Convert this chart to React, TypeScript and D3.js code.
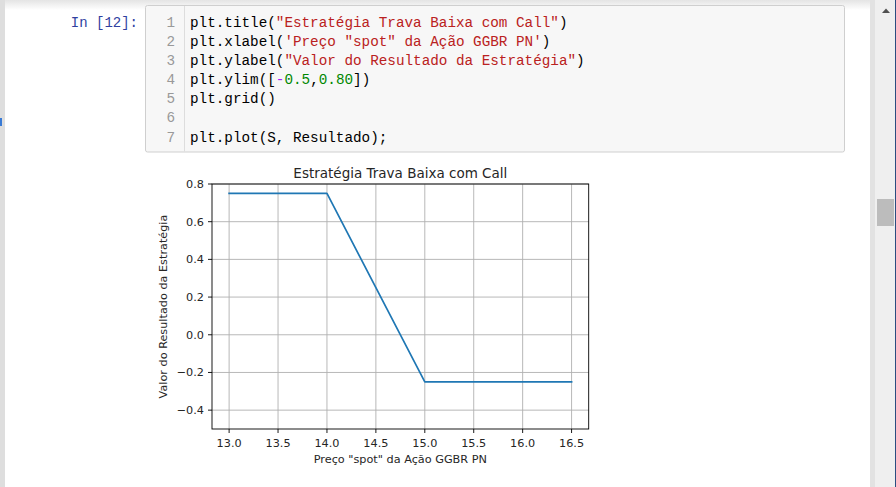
import React from "react";
import * as d3 from "d3";

const S = [13.0, 14.0, 15.0, 16.5];
const Resultado = [0.75, 0.75, -0.25, -0.25];
const xTicks = [13.0, 13.5, 14.0, 14.5, 15.0, 15.5, 16.0, 16.5];
const yTicks = [-0.4, -0.2, 0.0, 0.2, 0.4, 0.6, 0.8];
const yLimits = [-0.5, 0.8];
const chartTitle = "Estratégia Trava Baixa com Call";
const xLabel = 'Preço "spot" da Ação GGBR PN';
const yLabel = "Valor do Resultado da Estratégia";
const promptLabel = "In [12]:";

const K = "#000000";
const R = "#ba2121";
const G = "#008800";
const P = "#aa22ff";
const codeLines: [string, string][][] = [
  [["plt.title(", K], ['"Estratégia Trava Baixa com Call"', R], [")", K]],
  [["plt.xlabel(", K], [`'Preço "spot" da Ação GGBR PN'`, R], [")", K]],
  [["plt.ylabel(", K], ['"Valor do Resultado da Estratégia"', R], [")", K]],
  [["plt.ylim([", K], ["-", P], ["0.5", G], [",", K], ["0.80", G], ["])", K]],
  [["plt.grid()", K]],
  [],
  [["plt.plot(S, Resultado);", K]],
];

export default function App() {
  const W = 896, H = 487;
  const left = 212, right = 588.7, top = 184, bottom = 429;
  const xPad = (S[S.length - 1] - S[0]) * 0.05;
  const x = d3.scaleLinear().domain([S[0] - xPad, S[S.length - 1] + xPad]).range([left, right]);
  const y = d3.scaleLinear().domain(yLimits).range([bottom, top]);
  const line = d3.line<number>().x((_, i) => x(S[i])).y((d) => y(d));
  const fmt = (v: number) => d3.format(".1f")(v).replace("-", "\u2212");
  const chartFont = "'DejaVu Sans', sans-serif";
  const monoFont = "'Liberation Mono', 'DejaVu Sans Mono', monospace";
  const lineH = 19.17;
  const firstBase = 26.5;

  return (
    <div style={{ position: "fixed", left: 0, top: 0, width: W, height: H, background: "#fff" }}>
      <svg width={W} height={H} style={{ display: "block" }}>
        <defs>
          <linearGradient id="topShade" x1="0" y1="0" x2="0" y2="1">
            <stop offset="0" stopColor="#e4e4e4" />
            <stop offset="1" stopColor="#ffffff" />
          </linearGradient>
        </defs>
        <rect x={0} y={0} width={W} height={H} fill="#fff" />
        <rect x={0} y={0} width={870} height={10} fill="url(#topShade)" />
        {/* left strip */}
        <rect x={0} y={0} width={5} height={H} fill="#dedede" />
        <rect x={0} y={118} width={2} height={8} fill="#3a7bd5" />
        {/* scrollbar */}
        <rect x={870} y={0} width={5} height={H} fill="#e2e2e2" />
        <rect x={875} y={0} width={20} height={H} fill="#efefef" />
        <rect x={895} y={0} width={1} height={H} fill="#2b4d80" />
        <path d="M882,13 L886,8.5 L890,13 Z" fill="#505050" />
        <rect x={877} y={199} width={17} height={27} fill="#bcbcbc" />

        {/* prompt */}
        <text x={138} y={firstBase} textAnchor="end" fontFamily={monoFont} fontSize={14} fill="#303f9f" style={{ whiteSpace: "pre" }}>
          {promptLabel}
        </text>

        {/* code cell */}
        <rect x={145.5} y={5.5} width={699} height={146.5} rx={2} fill="#f7f7f7" stroke="#cfcfcf" strokeWidth={1} />
        <line x1={184.5} x2={184.5} y1={6} y2={151.5} stroke="#dddddd" strokeWidth={1} />
        {codeLines.map((tokens, i) => (
          <g key={i}>
            <text x={175} y={firstBase + i * lineH} textAnchor="end" fontFamily={monoFont} fontSize={14.3} fill="#999999">
              {i + 1}
            </text>
            <text x={190} y={firstBase + i * lineH} fontFamily={monoFont} fontSize={14.3} style={{ whiteSpace: "pre" }}>
              {tokens.map(([t, c], j) => (
                <tspan key={j} fill={c}>{t}</tspan>
              ))}
            </text>
          </g>
        ))}

        {/* chart */}
        <g>
          {xTicks.map((t) => (
            <line key={"gx" + t} x1={x(t)} x2={x(t)} y1={top} y2={bottom} stroke="#b0b0b0" strokeWidth={0.9} />
          ))}
          {yTicks.map((t) => (
            <line key={"gy" + t} x1={left} x2={right} y1={y(t)} y2={y(t)} stroke="#b0b0b0" strokeWidth={0.9} />
          ))}
          <path d={line(Resultado) || ""} fill="none" stroke="#1f77b4" strokeWidth={1.7} strokeLinejoin="round" strokeLinecap="square" />
          <rect x={left} y={top} width={right - left} height={bottom - top} fill="none" stroke="#000" strokeWidth={0.9} />
          {xTicks.map((t) => (
            <g key={"tx" + t}>
              <line x1={x(t)} x2={x(t)} y1={bottom} y2={bottom + 4} stroke="#000" strokeWidth={0.9} />
              <text x={x(t)} y={447} textAnchor="middle" fontFamily={chartFont} fontSize={11.25} fill="#262626">
                {fmt(t)}
              </text>
            </g>
          ))}
          {yTicks.map((t) => (
            <g key={"ty" + t}>
              <line x1={left - 4} x2={left} y1={y(t)} y2={y(t)} stroke="#000" strokeWidth={0.9} />
              <text x={204} y={y(t) + 4} textAnchor="end" fontFamily={chartFont} fontSize={11.25} fill="#262626">
                {fmt(t)}
              </text>
            </g>
          ))}
          <text x={(left + right) / 2} y={178} textAnchor="middle" fontFamily={chartFont} fontSize={13.5} fill="#262626">
            {chartTitle}
          </text>
          <text x={(left + right) / 2} y={463} textAnchor="middle" fontFamily={chartFont} fontSize={11.25} fill="#262626">
            {xLabel}
          </text>
          <text
            transform={`translate(167,${(top + bottom) / 2}) rotate(-90)`}
            textAnchor="middle"
            fontFamily={chartFont}
            fontSize={11.25}
            fill="#262626"
          >
            {yLabel}
          </text>
        </g>
      </svg>
    </div>
  );
}
